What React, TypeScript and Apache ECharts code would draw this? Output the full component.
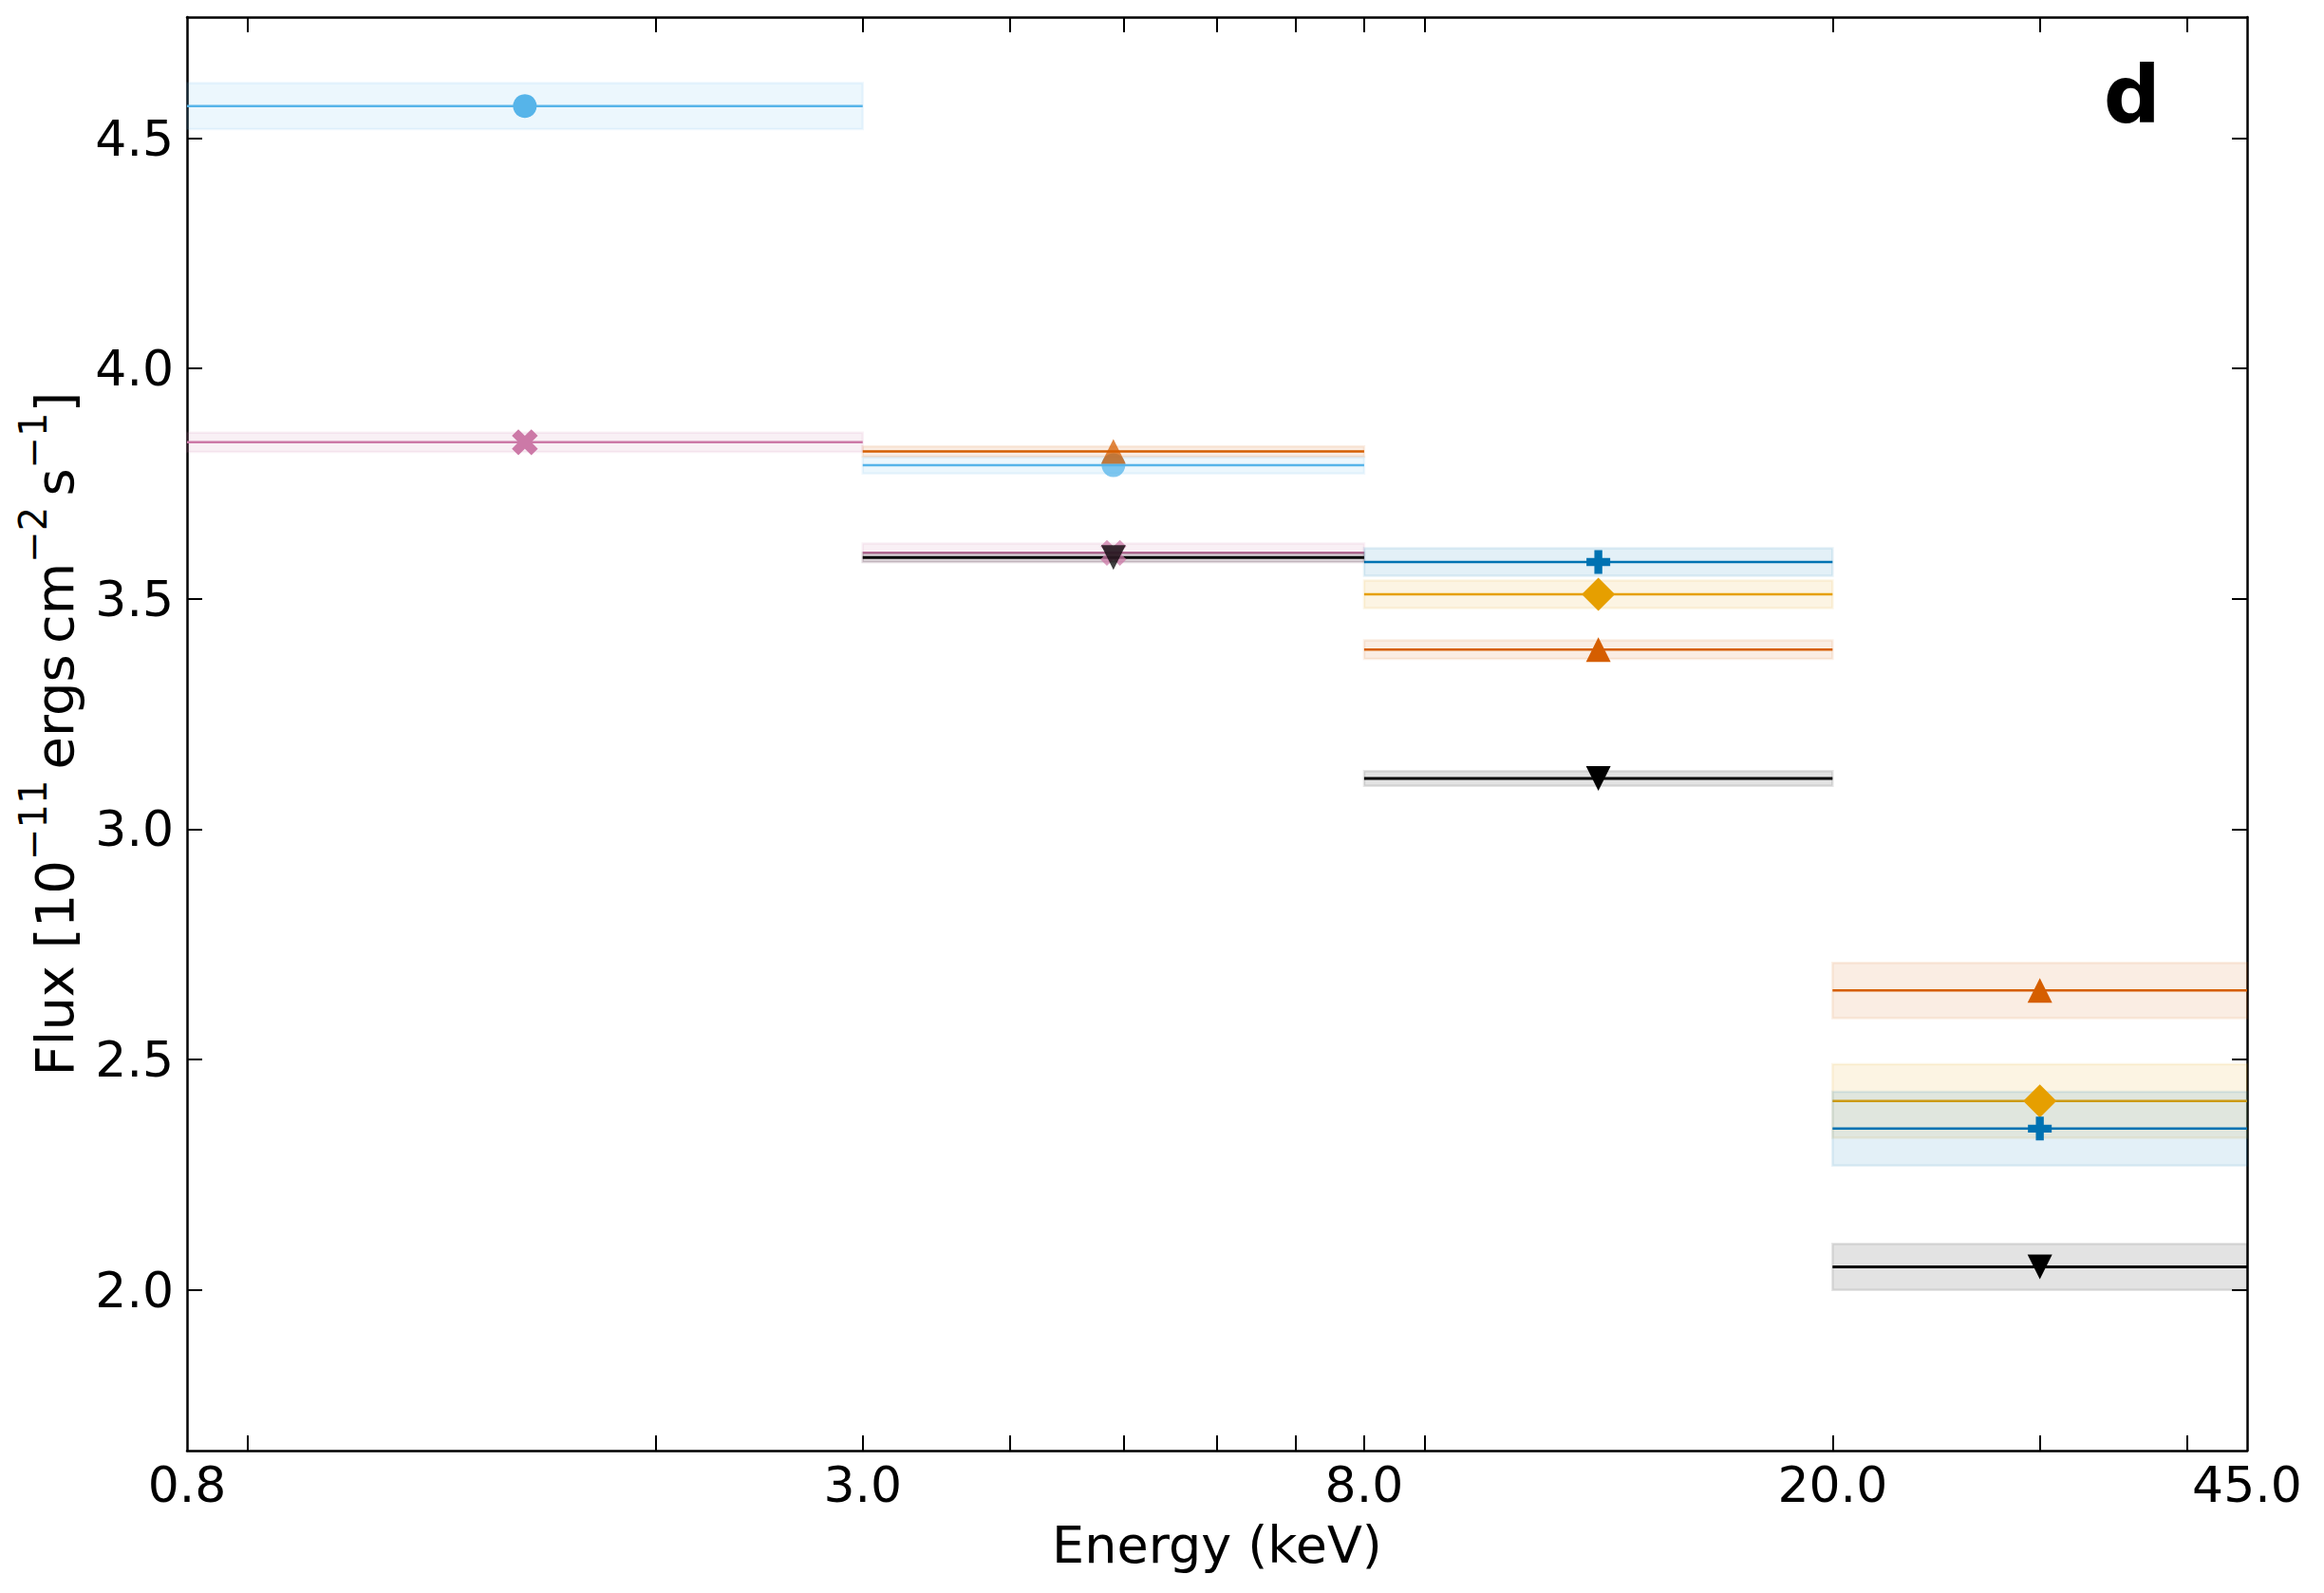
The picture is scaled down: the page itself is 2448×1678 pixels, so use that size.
import React, { useEffect, useRef } from "react";
import * as echarts from "echarts";

// Energy bin edges (keV)
const binEdges = [0.8, 3, 8, 20, 45];
const xLabelValues = [0.8, 3, 8, 20, 45];
const xMinorTicks = [0.9, 2, 3, 4, 5, 6, 7, 8, 9, 20, 30, 40];
const yTickValues = [2.0, 2.5, 3.0, 3.5, 4.0, 4.5];

// Series: bin index, flux, half band width
const skyBins = [0, 1];
const skyFlux = [4.57, 3.79];
const skyErr = [0.05, 0.018];

const pinkBins = [0, 1];
const pinkFlux = [3.84, 3.60];
const pinkErr = [0.021, 0.02];

const vermBins = [1, 2, 3];
const vermFlux = [3.82, 3.39, 2.65];
const vermErr = [0.011, 0.02, 0.06];

const orangeBins = [2, 3];
const orangeFlux = [3.51, 2.41];
const orangeErr = [0.03, 0.08];

const blueBins = [2, 3];
const blueFlux = [3.58, 2.35];
const blueErr = [0.03, 0.08];

const blackBins = [1, 2, 3];
const blackFlux = [3.59, 3.11, 2.05];
const blackErr = [0.01, 0.016, 0.05];

const FONT = "DejaVu Sans";
const PLUS_PATH = "path://M1,0 L2,0 L2,1 L3,1 L3,2 L2,2 L2,3 L1,3 L1,2 L0,2 L0,1 L1,1 Z";

function rgba(hex: string, a: number) {
  const h = hex.replace("#", "");
  const r = parseInt(h.slice(0, 2), 16);
  const g = parseInt(h.slice(2, 4), 16);
  const b = parseInt(h.slice(4, 6), 16);
  return `rgba(${r},${g},${b},${a})`;
}

type Spec = {
  name: string;
  color: string;
  bins: number[];
  flux: number[];
  err: number[];
  symbol: string;
  size: number;
  rotate: number;
};

const specs: Spec[] = [
  { name: "sky", color: "#56B4E9", bins: skyBins, flux: skyFlux, err: skyErr, symbol: "circle", size: 25, rotate: 0 },
  { name: "pink", color: "#CC79A7", bins: pinkBins, flux: pinkFlux, err: pinkErr, symbol: PLUS_PATH, size: 29, rotate: 45 },
  { name: "verm", color: "#D55E00", bins: vermBins, flux: vermFlux, err: vermErr, symbol: "triangle", size: 26, rotate: 0 },
  { name: "orange", color: "#E69F00", bins: orangeBins, flux: orangeFlux, err: orangeErr, symbol: "diamond", size: 35, rotate: 0 },
  { name: "blue", color: "#0072B2", bins: blueBins, flux: blueFlux, err: blueErr, symbol: PLUS_PATH, size: 25, rotate: 0 },
  { name: "black", color: "#000000", bins: blackBins, flux: blackFlux, err: blackErr, symbol: "triangle", size: 26, rotate: 180 },
];

const L = (v: number) => Math.log10(v);

function buildOption() {
  const bandSeries: any[] = [];
  const markerSeries: any[] = [];
  specs.forEach((s, si) => {
    const bandData = s.bins.map((b, i) => [
      L(binEdges[b]),
      L(binEdges[b + 1]),
      s.flux[i],
      s.flux[i] - s.err[i],
      s.flux[i] + s.err[i],
    ]);
    bandSeries.push({
      type: "custom",
      name: s.name + "-band",
      z: 2 + si,
      silent: true,
      encode: { x: [0, 1], y: [2, 3, 4] },
      data: bandData,
      renderItem: (params: any, api: any) => {
        const p0 = api.coord([api.value(0), api.value(4)]);
        const p1 = api.coord([api.value(1), api.value(3)]);
        const ym = api.coord([api.value(0), api.value(2)])[1];
        return {
          type: "group",
          children: [
            {
              type: "rect",
              shape: { x: p0[0], y: p0[1], width: p1[0] - p0[0], height: p1[1] - p0[1] },
              style: {
                fill: rgba(s.color, 0.11),
                stroke: rgba(s.color, 0.1),
                lineWidth: 2.5,
              },
            },
            {
              type: "line",
              shape: { x1: p0[0], y1: ym, x2: p1[0], y2: ym },
              style: { stroke: s.color, lineWidth: s.color === "#000000" ? 3 : 2.5 },
            },
          ],
        };
      },
    });
    markerSeries.push({
      type: "scatter",
      name: s.name,
      z: 20 + si,
      silent: true,
      symbol: s.symbol,
      symbolSize: s.size,
      symbolRotate: s.rotate,
      data: s.bins.map((b, i) => ({
        value: [(L(binEdges[b]) + L(binEdges[b + 1])) / 2, s.flux[i]],
        itemStyle: { color: s.color, opacity: b === 1 ? 0.75 : 1 },
      })),
    });
  });

  const axisLineStyle = { color: "#000", width: 2.5 };
  const tickStyle = { color: "#000", width: 2 };

  return {
    animation: false,
    backgroundColor: "#ffffff",
    grid: { left: 197, right: 81, top: 18, bottom: 150, containLabel: false },
    xAxis: [
      {
        type: "value",
        position: "bottom",
        min: L(0.8),
        max: L(45),
        axisLine: { show: true, onZero: false, lineStyle: axisLineStyle },
        axisTick: { show: true, inside: true, length: 16, lineStyle: tickStyle, customValues: xMinorTicks.map(L) },
        axisLabel: {
          show: true,
          customValues: xLabelValues.map(L),
          formatter: (v: number) => Math.pow(10, v).toFixed(1),
          fontFamily: FONT,
          fontSize: 52,
          color: "#000",
          margin: 10,
          showMinLabel: true,
          showMaxLabel: true,
        },
        splitLine: { show: false },
        name: "Energy (keV)",
        nameLocation: "middle",
        nameGap: 72,
        nameTextStyle: { fontFamily: FONT, fontSize: 54, color: "#000" },
      },
      {
        type: "value",
        position: "top",
        min: L(0.8),
        max: L(45),
        axisLine: { show: true, onZero: false, lineStyle: axisLineStyle },
        axisTick: { show: true, inside: true, length: 16, lineStyle: tickStyle, customValues: xMinorTicks.map(L) },
        axisLabel: { show: false },
        splitLine: { show: false },
      },
    ],
    yAxis: [
      {
        type: "value",
        position: "left",
        min: 1.651,
        max: 4.763,
        axisLine: { show: true, onZero: false, lineStyle: axisLineStyle },
        axisTick: { show: true, inside: true, length: 16, lineStyle: tickStyle, customValues: yTickValues },
        axisLabel: {
          show: true,
          customValues: yTickValues,
          formatter: (v: number) => v.toFixed(1),
          fontFamily: FONT,
          fontSize: 52,
          color: "#000",
          margin: 14,
        },
        splitLine: { show: false },
        name: "{a|Flux [10}{s|\u221211}{a|\u2009ergs\u2009cm}{s|\u22122}{a|\u2009s}{s|\u22121}{a|]}",
        nameLocation: "middle",
        nameRotate: 90,
        nameGap: 112,
        nameTextStyle: {
          fontFamily: FONT,
          color: "#000",
          rich: {
            a: { fontFamily: FONT, fontSize: 56, color: "#000", lineHeight: 70, verticalAlign: "bottom" },
            s: { fontFamily: FONT, fontSize: 40, color: "#000", lineHeight: 40, verticalAlign: "top" },
          },
        },
      },
      {
        type: "value",
        position: "right",
        min: 1.651,
        max: 4.763,
        axisLine: { show: true, onZero: false, lineStyle: axisLineStyle },
        axisTick: { show: true, inside: true, length: 16, lineStyle: tickStyle, customValues: yTickValues },
        axisLabel: { show: false },
        splitLine: { show: false },
      },
    ],
    graphic: [
      {
        type: "text",
        right: 2448 - 2276,
        top: 58,
        style: {
          text: "d",
          font: `bold 84px "${FONT}"`,
          fill: "#000",
        },
      },
    ],
    series: [...bandSeries, ...markerSeries],
  };
}

export default function App() {
  const ref = useRef<HTMLDivElement>(null);
  useEffect(() => {
    document.body.style.margin = "0";
    if (!ref.current) return;
    const chart = echarts.init(ref.current, undefined, { renderer: "svg" });
    chart.setOption(buildOption() as any);
    return () => chart.dispose();
  }, []);
  return <div ref={ref} style={{ width: 2448, height: 1678, background: "#fff" }} />;
}
